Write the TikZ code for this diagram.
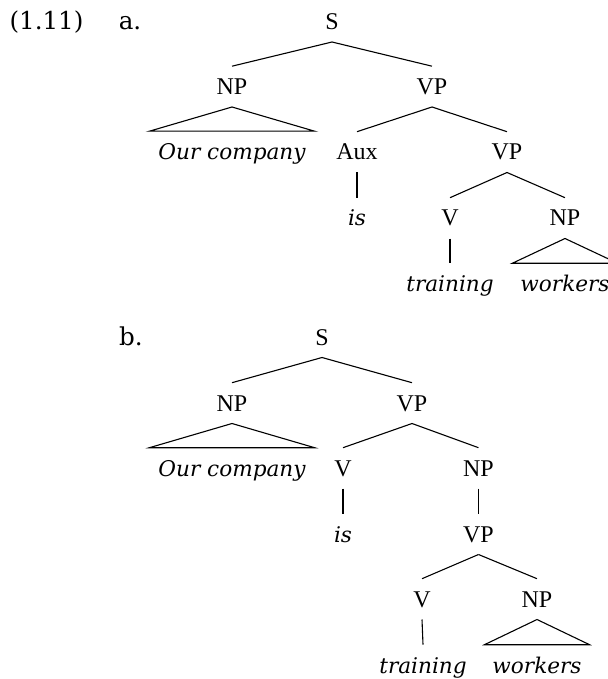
\documentclass[tikz,border=0pt]{standalone}
\usepackage{fontspec}
\setmainfont{Liberation Serif}
\newfontfamily\wordfont{DejaVu Serif}
\begin{document}
\begin{tikzpicture}[x=0.5pt, y=-0.5pt,
  cat/.style={anchor=base, inner sep=0pt, outer xsep=0pt, outer ysep=6.25pt,
    text height=7.9pt, text depth=0pt, font=\fontsize{12}{14}\selectfont},
  word/.style={cat, font=\wordfont\itshape\fontsize{10.8}{12}\selectfont},
  lab/.style={anchor=base, inner sep=0pt, font=\wordfont\fontsize{12.3}{14}\selectfont},
  edge/.style={line width=0.55pt, black},
  tri/.style={line width=0.55pt, black, line join=miter}]
\useasboundingbox (0,0) rectangle (608,679);
% labels
\node[lab] (num) at (46.5,29.5) {(1.11)};
\node[lab] (la) at (130,29.5) {a.};
\node[lab] (lb) at (131,345) {b.};
% ---- tree a ----
\node[cat] (aS) at (332,29.5) {S};
\node[cat] (aNP) at (232,94.5) {NP};
\node[cat] (aVP) at (432,94.5) {VP};
\node[word] (aOC) at (232,159.5) {Our company};
\node[cat] (aAux) at (357,160) {Aux};
\node[cat] (aVP2) at (507,160) {VP};
\node[word] (ais) at (357,226) {is};
\node[cat] (aV) at (450,226) {V};
\node[cat] (aNP2) at (565,226) {NP};
\node[word] (atr) at (450,291.5) {training};
\node[word] (awo) at (565,291.5) {workers};
\draw[edge] (aS.south) -- (aNP.north);
\draw[edge] (aS.south) -- (aVP.north);
\draw[tri] (aNP.south) -- ([xshift=-4.5pt]aOC.north west) -- ([xshift=4.5pt]aOC.north east) -- cycle;
\draw[edge] (aVP.south) -- (aAux.north);
\draw[edge] (aVP.south) -- (aVP2.north);
\draw[edge] (aAux.south) -- (ais.north);
\draw[edge] (aVP2.south) -- (aV.north);
\draw[edge] (aVP2.south) -- (aNP2.north);
\draw[edge] (aV.south) -- (atr.north);
\draw[tri] (aNP2.south) -- ([xshift=-4pt]awo.north west) -- ([xshift=4pt]awo.north east) -- cycle;
% ---- tree b ----
\node[cat] (bS) at (322,345) {S};
\node[cat] (bNP) at (232,411) {NP};
\node[cat] (bVP) at (412,411) {VP};
\node[word] (bOC) at (232,476) {Our company};
\node[cat] (bV) at (343,476) {V};
\node[cat] (bNP2) at (478.5,476) {NP};
\node[word] (bis) at (343,542) {is};
\node[cat] (bVP2) at (478.5,542) {VP};
\node[cat] (bV2) at (422,607) {V};
\node[cat] (bNP3) at (537,607) {NP};
\node[word] (btr) at (423,673) {training};
\node[word] (bwo) at (537,673) {workers};
\draw[edge] (bS.south) -- (bNP.north);
\draw[edge] (bS.south) -- (bVP.north);
\draw[tri] (bNP.south) -- ([xshift=-4.5pt]bOC.north west) -- ([xshift=4.5pt]bOC.north east) -- cycle;
\draw[edge] (bVP.south) -- (bV.north);
\draw[edge] (bVP.south) -- (bNP2.north);
\draw[edge] (bV.south) -- (bis.north);
\draw[edge] (bNP2.south) -- (bVP2.north);
\draw[edge] (bVP2.south) -- (bV2.north);
\draw[edge] (bVP2.south) -- (bNP3.north);
\draw[edge] (bV2.south) -- (btr.north);
\draw[tri] (bNP3.south) -- ([xshift=-4pt]bwo.north west) -- ([xshift=4pt]bwo.north east) -- cycle;
\end{tikzpicture}
\end{document}
